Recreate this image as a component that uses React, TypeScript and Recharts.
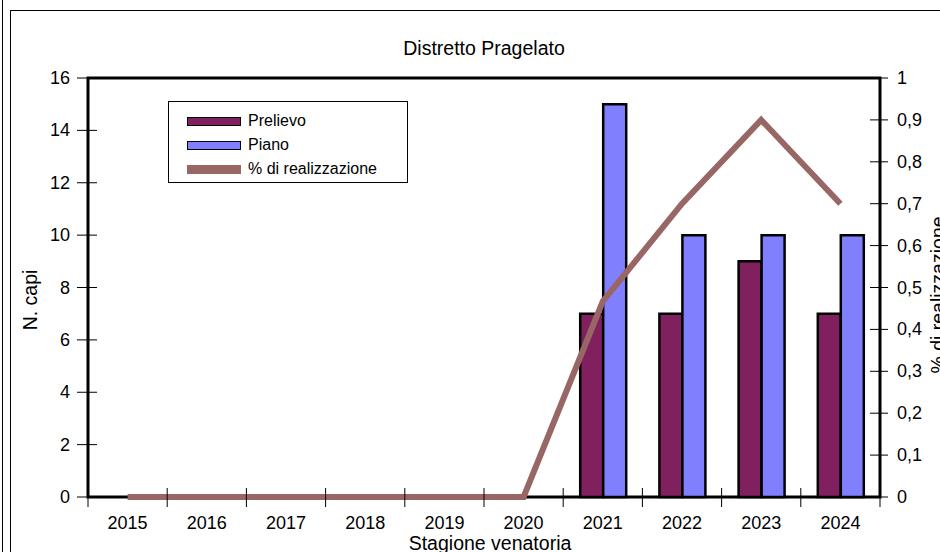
import React from 'react';
import { ComposedChart, Bar, Line, XAxis, YAxis, Legend, ReferenceArea } from 'recharts';

const seasons = ['2015', '2016', '2017', '2018', '2019', '2020', '2021', '2022', '2023', '2024'];
const prelievo = [null, null, null, null, null, null, 7, 7, 9, 7];
const piano = [null, null, null, null, null, null, 15, 10, 10, 10];
const realizzazione = [0, 0, 0, 0, 0, 0, 0.467, 0.7, 0.9, 0.7];

const capiTicks = [0, 2, 4, 6, 8, 10, 12, 14, 16];
const pctTicks = [0, 0.1, 0.2, 0.3, 0.4, 0.5, 0.6, 0.7, 0.8, 0.9, 1];

const data = seasons.map((season, i) => ({
  season,
  prelievo: prelievo[i],
  piano: piano[i],
  pct: realizzazione[i],
}));

const FONT = '"Liberation Sans", Arial, sans-serif';

const fmtPct = (v: number) => String(Math.round(v * 10) / 10).replace('.', ',');

const LeftTick = ({ x, y, payload }: any) => (
  <g>
    <line x1={x - 11} x2={x + 9} y1={y} y2={y} stroke="#000" strokeWidth={1} />
    <text x={x - 18} y={y} textAnchor="end" dominantBaseline="central" fontSize={18} fontFamily={FONT} fill="#000">
      {payload.value}
    </text>
  </g>
);

const RightTick = ({ x, y, payload }: any) => (
  <g>
    <line x1={x - 10} x2={x + 8} y1={y} y2={y} stroke="#000" strokeWidth={1} />
    <text x={x + 17} y={y} textAnchor="start" dominantBaseline="central" fontSize={18} fontFamily={FONT} fill="#000">
      {fmtPct(payload.value)}
    </text>
  </g>
);

// season label at the band centre, Excel-style tick marks on the band edges
const SeasonTick = ({ x, y, payload, index, visibleTicksCount, width }: any) => {
  const half = payload.offset || width / visibleTicksCount / 2;
  const edges = index === visibleTicksCount - 1 ? [x - half, x + half] : [x - half];
  return (
    <g>
      {edges.map((ex) => (
        <line key={ex} x1={ex} x2={ex} y1={y - 9} y2={y + 10} stroke="#000" strokeWidth={1} />
      ))}
      <text x={x} y={y + 32} textAnchor="middle" fontSize={18} fontFamily={FONT} fill="#000">
        {payload.value}
      </text>
    </g>
  );
};

const LegendBox = ({ payload }: any) => (
  <div
    style={{
      width: 240,
      height: 82,
      boxSizing: 'border-box',
      border: '1px solid #000',
      background: '#fff',
      padding: '7px 0 0 18px',
      fontFamily: FONT,
      fontSize: 16,
      color: '#000',
    }}
  >
    {[...(payload || [])].reverse().map((entry: any) => (
      <div key={entry.value} style={{ height: 24, display: 'flex', alignItems: 'center' }}>
        <svg width={55} height={11} style={{ marginRight: 6 }}>
          {entry.type === 'line' ? (
            <rect x={0} y={1} width={54} height={9} fill={entry.color} />
          ) : (
            <rect x={0.5} y={1.5} width={53} height={8} fill={entry.color} stroke="#000" strokeWidth={1} />
          )}
        </svg>
        <span>{entry.value}</span>
      </div>
    ))}
  </div>
);

export default function App() {
  return (
    <div style={{ position: 'absolute', left: 0, top: 0, width: 940, height: 552, overflow: 'hidden', background: '#fff' }}>
      <div style={{ position: 'absolute', left: 2, top: 0, width: 1, height: 552, background: '#000' }} />
      <div style={{ position: 'absolute', left: 10, top: 10, width: 960, height: 580, border: '1px solid #000' }} />
      <div style={{ position: 'absolute', left: 0, top: 0 }}>
        <ComposedChart
          width={940}
          height={552}
          data={data}
          margin={{ top: 78, right: 0, bottom: 0, left: 0 }}
          barGap={0}
        >
          <XAxis
            xAxisId="cat"
            dataKey="season"
            height={55}
            axisLine={false}
            tickLine={false}
            tickSize={0}
            tickMargin={0}
            interval={0}
            tick={SeasonTick}
          />
          <YAxis
            yAxisId="left"
            width={88}
            domain={[0, 16]}
            ticks={capiTicks}
            interval={0}
            axisLine={false}
            tickLine={false}
            tickSize={0}
            tickMargin={0}
            tick={LeftTick}
          />
          <YAxis
            yAxisId="right"
            orientation="right"
            width={60}
            domain={[0, 1]}
            ticks={pctTicks}
            interval={0}
            axisLine={false}
            tickLine={false}
            tickSize={0}
            tickMargin={0}
            tick={RightTick}
          />
          <ReferenceArea
            xAxisId="cat"
            yAxisId="left"
            y1={0}
            y2={16}
            fill="none"
            fillOpacity={0}
            stroke="#000"
            strokeWidth={3}
            ifOverflow="visible"
          />
          <Bar
            xAxisId="cat"
            yAxisId="left"
            dataKey="prelievo"
            name="Prelievo"
            fill="#80205f"
            stroke="#000"
            strokeWidth={2.5}
            barSize={23}
            isAnimationActive={false}
          />
          <Bar
            xAxisId="cat"
            yAxisId="left"
            dataKey="piano"
            name="Piano"
            fill="#8080ff"
            stroke="#000"
            strokeWidth={2.5}
            barSize={23}
            isAnimationActive={false}
          />
          <Line
            xAxisId="cat"
            yAxisId="right"
            dataKey="pct"
            name="% di realizzazione"
            type="linear"
            stroke="#996666"
            strokeWidth={6}
            dot={false}
            activeDot={false}
            legendType="line"
            isAnimationActive={false}
          />
          <Legend
            content={LegendBox}
            layout="horizontal"
            verticalAlign="middle"
            align="center"
            wrapperStyle={{ left: 168, top: 101, width: 240, height: 82 }}
          />
          <text x={484} y={55} textAnchor="middle" fontSize={19.5} fontFamily={FONT} fill="#000">
            Distretto Pragelato
          </text>
          <text x={37} y={300} transform="rotate(-90, 37, 300)" textAnchor="middle" fontSize={19.5} fontFamily={FONT} fill="#000">
            N. capi
          </text>
          <text x={945} y={295} transform="rotate(-90, 945, 295)" textAnchor="middle" fontSize={19.5} fontFamily={FONT} fill="#000">
            % di realizzazione
          </text>
          <text x={490} y={550} textAnchor="middle" fontSize={19.5} fontFamily={FONT} fill="#000">
            Stagione venatoria
          </text>
        </ComposedChart>
      </div>
    </div>
  );
}
